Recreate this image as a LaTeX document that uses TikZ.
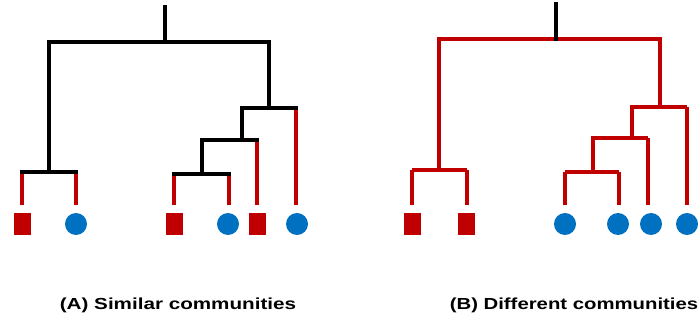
\documentclass[tikz,border=0pt]{standalone}
\usepackage{fontspec}
\usepackage{graphicx}
\setmainfont{Liberation Sans}
\definecolor{dred}{HTML}{C00000}
\definecolor{dblue}{HTML}{0070C0}
\begin{document}
\begin{tikzpicture}[x=1pt,y=-1pt,
  bk/.style={line width=3.4pt,black,line cap=rect,line join=miter},
  rd/.style={line width=3.4pt,dred,line join=miter},
  rdl/.style={line width=3.1pt,dred,shorten >=8pt},
  sq/.style={rectangle,fill=dred,minimum width=17pt,minimum height=22pt,inner sep=0pt},
  ci/.style={circle,fill=dblue,minimum size=22pt,inner sep=0pt},
  captxt/.style={font=\bfseries\fontsize{16}{19}\selectfont,inner sep=0pt}]
\useasboundingbox (0,0) rectangle (699,320);
% ---------- (A) ----------
\node[sq] (a1) at (22,224) {};
\node[ci] (a2) at (76,224) {};
\node[sq] (a3) at (174,224) {};
\node[ci] (a4) at (228,224) {};
\node[sq] (a5) at (257,224) {};
\node[ci] (a6) at (297,224) {};
\coordinate (atop) at (165,7);
\coordinate (ar) at (165,42);
\coordinate (an1) at (49,172);
\coordinate (an2) at (269,108);
\coordinate (an3) at (242,140);
\coordinate (an4) at (202,174);
% red leaf lines
\draw[rdl] (22,172) -- (a1.north);
\draw[rdl] (76,172) -- (a2.north);
\draw[rdl] (174,174) -- (a3.north);
\draw[rdl] (229,174) -- (229,213);
\draw[rdl] (257,140) -- (a5.north);
\draw[rdl] (296,108) -- (296,213);
% black internal
\draw[bk] (atop) -- (ar);
\draw[bk] (an1) -- (an1 |- ar) -- (an2 |- ar) -- (an2);
\draw[bk] (22,172) -- (76,172);
\draw[bk] (an3) -- (an3 |- an2) -- (296,108);
\draw[bk] (an4) -- (an4 |- an3) -- (257,140);
\draw[bk] (174,174) -- (229,174);
\node[captxt] (capa) at (178,305) {\scalebox{1.29}[1]{(A) Similar communities}};
% ---------- (B) ----------
\node[sq] (b1) at (412,224) {};
\node[sq] (b2) at (466,224) {};
\node[ci] (b3) at (565,224) {};
\node[ci] (b4) at (618,224) {};
\node[ci] (b5) at (651,224) {};
\node[ci] (b6) at (687,224) {};
\coordinate (btop) at (556,4);
\coordinate (br) at (556,39);
\coordinate (bn1) at (439,170);
\coordinate (bn2) at (660,107);
\coordinate (bn3) at (632,138);
\coordinate (bn4) at (593,172);
\draw[rdl] (412,170) -- (b1.north);
\draw[rdl] (467,170) -- (467,213);
\draw[rdl] (565,172) -- (b3.north);
\draw[rdl] (619,172) -- (619,213);
\draw[rdl] (648,138) -- (648,213);
\draw[rdl] (687,107) -- (b6.north);
\draw[rd] (bn1) -- (bn1 |- br) -- (bn2 |- br) -- (bn2);
\draw[rd] (412,170) -- (467,170);
\draw[rd] (bn3) -- (bn3 |- bn2) -- (687,107);
\draw[rd] (bn4) -- (bn4 |- bn3) -- (648,138);
\draw[rd] (565,172) -- (619,172);
\draw[bk] (btop) -- (br);
\node[captxt] (capb) at (574,305) {\scalebox{1.27}[1]{(B) Different communities}};
\end{tikzpicture}
\end{document}
